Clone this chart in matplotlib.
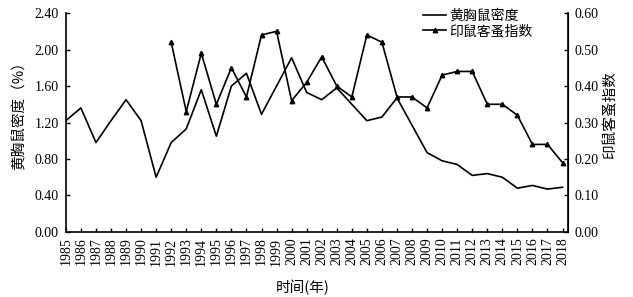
import numpy as np
import matplotlib.pyplot as plt

plt.rcParams['font.family'] = ['Liberation Serif', 'Noto Sans CJK SC']
cjk = ['Noto Sans CJK SC', 'Liberation Serif']

# data
years = list(range(1985, 2019))
density = [1.22, 1.36, 0.98, 1.22, 1.45, 1.22, 0.60, 0.98, 1.13, 1.56,
           1.05, 1.60, 1.74, 1.29, 1.60, 1.91, 1.53, 1.45, 1.58, 1.40,
           1.22, 1.26, 1.47, 1.17, 0.87, 0.78, 0.74, 0.62, 0.64, 0.60,
           0.48, 0.51, 0.47, 0.49]
flea_years = list(range(1992, 2019))
flea = [0.52, 0.33, 0.49, 0.35, 0.45, 0.37, 0.54, 0.55, 0.36, 0.41,
        0.48, 0.40, 0.37, 0.54, 0.52, 0.37, 0.37, 0.34, 0.43, 0.44,
        0.44, 0.35, 0.35, 0.32, 0.24, 0.24, 0.19]

fig = plt.figure(figsize=(6.33, 2.97), dpi=100)
ax = fig.add_axes([0.104, 0.219, 0.793, 0.737])
ax2 = ax.twinx()

l1, = ax.plot(years, density, color='black', lw=1.2, label='黄胸鼠密度')
l2, = ax2.plot(flea_years, flea, color='black', lw=1.2, marker='^', ms=3.2,
               label='印鼠客蚤指数')

ax.set_xlim(1985, 2018.35)
ax.set_ylim(0, 2.4)
ax2.set_ylim(0, 0.6)
ax.set_yticks(np.arange(0, 2.41, 0.4))
ax.set_yticklabels(['%.2f' % v for v in np.arange(0, 2.41, 0.4)])
ax2.set_yticks(np.arange(0, 0.61, 0.1))
ax2.set_yticklabels(['%.2f' % v for v in np.arange(0, 0.61, 0.1)])
ax.set_xticks(years)
ax.set_xticklabels([str(y) for y in years], rotation=90)

for a in (ax, ax2):
    a.spines['top'].set_visible(False)
    a.tick_params(direction='in', length=3, width=1, labelsize=10, pad=5)
ax.tick_params(axis='x', pad=4)
ax.spines['left'].set_linewidth(1.2)
ax.spines['bottom'].set_linewidth(1.2)
ax2.spines['right'].set_linewidth(1.2)
ax2.spines['left'].set_visible(False)
ax2.spines['bottom'].set_visible(False)

ax.set_ylabel('黄胸鼠密度（%）', family=cjk, fontsize=10.5)
ax.yaxis.set_label_coords(-0.078, 0.548)
ax2.set_ylabel('印鼠客蚤指数', family=cjk, fontsize=10.5)
ax2.yaxis.set_label_coords(1.07, 0.534)
ax.set_xlabel('时间(年)', family=cjk, fontsize=10.5)
ax.xaxis.set_label_coords(0.472, -0.22)

leg = ax2.legend([l1, l2], ['黄胸鼠密度', '印鼠客蚤指数'], loc='upper left',
                 bbox_to_anchor=(0.711, 1.02), frameon=False, handlelength=1.7,
                 handletextpad=0.2, labelspacing=0.1, borderaxespad=0,
                 borderpad=0, prop={'family': cjk, 'size': 10})

fig.savefig('out.png', dpi=100, facecolor='white')
